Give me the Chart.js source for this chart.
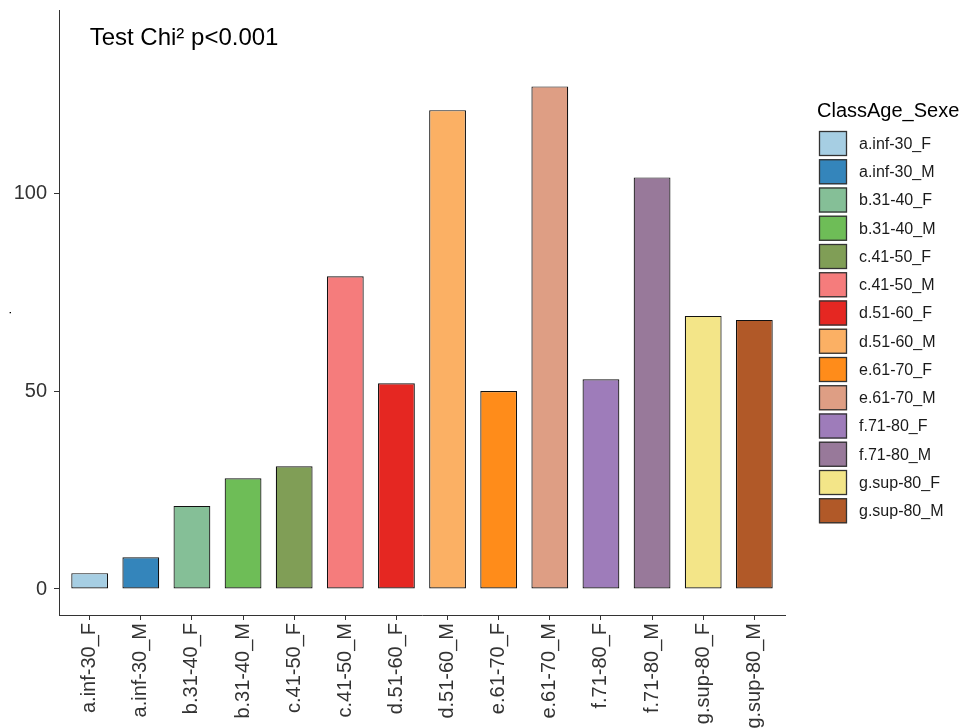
<!DOCTYPE html>
<html><head><meta charset="utf-8">
<script src="https://cdn.jsdelivr.net/npm/chart.js@4.4.1/dist/chart.umd.min.js"></script>
<style>html,body{margin:0;padding:0;background:#fff;} #wrap{position:relative;width:971px;height:728px;}</style>
</head><body><div id="wrap"><canvas id="c" width="971" height="728"></canvas></div>
<script>
const categories = ['a.inf-30_F','a.inf-30_M','b.31-40_F','b.31-40_M','c.41-50_F','c.41-50_M','d.51-60_F','d.51-60_M','e.61-70_F','e.61-70_M','f.71-80_F','f.71-80_M','g.sup-80_F','g.sup-80_M'];
const counts = [4, 8, 21, 28, 31, 79, 52, 121, 50, 127, 53, 104, 69, 68];
const barColors = ['#A6CEE3','#3485BB','#85BF97','#6EBD57','#809E56','#F57C7C','#E52722','#FBB064','#FF8C1A','#DE9E84','#9E7CBA','#98799A','#F3E588','#B15928'];
const yTickValues = [0, 50, 100];
const legendTitle = 'ClassAge_Sexe';
const annotationText = 'Test Chi\u00B2 p<0.001';
const annotationY = 140;

const FONT = '"Liberation Sans", Arial, sans-serif';

const overlay = {
  id: 'overlay',
  afterDraw(chart) {
    const ctx = chart.ctx, xs = chart.scales.x, ys = chart.scales.y, ca = chart.chartArea;
    ctx.save();
    // annotation
    ctx.font = '24px ' + FONT;
    ctx.fillStyle = '#000';
    ctx.textAlign = 'left';
    ctx.textBaseline = 'alphabetic';
    ctx.fillText(annotationText, xs.getPixelForValue(0), ys.getPixelForValue(annotationY) + 10);
    // legend
    const lx = ca.right + 32;
    ctx.font = '20px ' + FONT;
    ctx.fillText(legendTitle, lx, ca.top + 107);
    const boxX = ca.right + 34, boxW = 28, boxH = 25, step = 28.25, top0 = ca.top + 121;
    ctx.font = '16px ' + FONT;
    ctx.textBaseline = 'middle';
    categories.forEach((lab, i) => {
      const y = top0 + i * step;
      ctx.fillStyle = barColors[i];
      ctx.fillRect(boxX, y, boxW, boxH);
      ctx.strokeStyle = '#333';
      ctx.lineWidth = 1.3;
      ctx.strokeRect(boxX + 0.5, y + 0.5, boxW - 1, boxH - 1);
      ctx.fillStyle = '#1a1a1a';
      ctx.fillText(lab, boxX + boxW + 12, y + boxH / 2 + 1);
    });
    ctx.restore();
  }
};

new Chart(document.getElementById('c'), {
  type: 'bar',
  data: {
    datasets: [{
      data: counts.map((v, i) => ({x: i, y: v})),
      backgroundColor: barColors,
      borderColor: '#111',
      borderWidth: 1.2,
      borderSkipped: false,
      barPercentage: 0.72,
      categoryPercentage: 1
    }]
  },
  options: {
    responsive: false,
    animation: false,
    devicePixelRatio: 1,
    layout: {padding: {top: 10, right: 186, left: 0, bottom: 0}},
    plugins: {legend: {display: false}, tooltip: {enabled: false}},
    scales: {
      x: {
        type: 'linear',
        offset: false,
        min: -0.6, max: 13.6,
        afterBuildTicks(s) { s.ticks = categories.map((_, i) => ({value: i})); },
        afterFit(s) { s.height = 113; s.paddingLeft = 0; s.paddingRight = 0; },
        grid: {drawOnChartArea: false, drawTicks: true, tickLength: 5, color: '#333', offset: false},
        border: {display: true, color: '#333', width: 1},
        ticks: {
          autoSkip: false, minRotation: 90, maxRotation: 90, padding: 3,
          color: '#333', font: {family: FONT, size: 20},
          callback: (v) => categories[v]
        }
      },
      y: {
        min: -6.57, max: 146.3,
        afterBuildTicks(s) { s.ticks = yTickValues.map(v => ({value: v})); },
        afterFit(s) { s.width = 59; s.paddingTop = 0; s.paddingBottom = 0; },
        grid: {drawOnChartArea: false, drawTicks: true, tickLength: 5, color: '#333'},
        border: {display: true, color: '#333', width: 1},
        title: {display: true, text: '.', color: '#000', font: {family: FONT, size: 12}, padding: 0},
        ticks: {padding: 7, color: '#333', font: {family: FONT, size: 20}}
      }
    }
  },
  plugins: [overlay]
});
</script>
</body></html>
